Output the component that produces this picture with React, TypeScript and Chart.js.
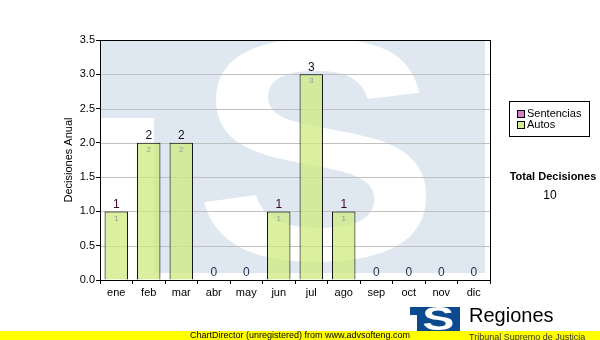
import React, { useEffect, useRef } from "react";
import { Chart, registerables } from "chart.js";

Chart.register(...registerables);

const categories = ["ene", "feb", "mar", "abr", "may", "jun", "jul", "ago", "sep", "oct", "nov", "dic"];
const sentencias = [0, 0, 0, 0, 0, 0, 0, 0, 0, 0, 0, 0];
const autos = [1, 2, 2, 0, 0, 1, 3, 1, 0, 0, 0, 0];
const yTicks = [0, 0.5, 1, 1.5, 2, 2.5, 3, 3.5];
const legendLabels = ["Sentencias", "Autos"];
const totalLabel = "Total Decisiones";
const totalValue = "10";
const yTitle = "Decisiones Anual";
const footerText = "ChartDirector (unregistered) from www.advsofteng.com";
const logoTitle = "Regiones";
const logoSubtitle = "Tribunal Supremo de Justicia";

const FONT = "'Liberation Sans', Arial, sans-serif";

function drawLogo(ctx: CanvasRenderingContext2D, x: number, y: number, w: number, h: number, blue: string, white: string) {
  ctx.save();
  ctx.fillStyle = blue;
  ctx.fillRect(x, y, w, h);
  ctx.fillStyle = white;
  ctx.fillRect(x, y + h * 0.335, w * 0.14, h * 0.665);
  ctx.font = `bold 100px 'Liberation Sans', Arial, sans-serif`;
  ctx.textAlign = "left";
  ctx.textBaseline = "alphabetic";
  const m = ctx.measureText("S");
  const left = -m.actualBoundingBoxLeft;
  const right = m.actualBoundingBoxRight;
  const top = -m.actualBoundingBoxAscent;
  const bottom = m.actualBoundingBoxDescent;
  const tx = x + w * 0.262;
  const ty = y - h * 0.009;
  const tw = w * 0.587;
  const th = h * 0.962;
  const sx = tw / (right - left);
  const sy = th / (bottom - top);
  ctx.beginPath();
  ctx.rect(x, y, w, h);
  ctx.clip();
  ctx.translate(tx - left * sx, ty - top * sy);
  ctx.scale(sx, sy);
  ctx.fillText("S", 0, 0);
  ctx.restore();
}

const decorPlugin = {
  id: "decor",
  beforeDatasetsDraw(chart: any) {
    const { ctx, chartArea: a } = chart;
    ctx.save();
    ctx.beginPath();
    ctx.rect(a.left, a.top, a.right - a.left, a.bottom - a.top);
    ctx.clip();
    drawLogo(ctx, a.left, a.top, 385, 233, "#dfe8f1", "#ffffff");
    ctx.restore();
    const y = chart.scales.y;
    ctx.save();
    ctx.strokeStyle = "#c0c0c0";
    ctx.lineWidth = 1;
    yTicks.forEach((t) => {
      if (t === 0) return;
      const py = Math.round(y.getPixelForValue(t)) + 0.5;
      ctx.beginPath();
      ctx.moveTo(a.left, py);
      ctx.lineTo(a.right, py);
      ctx.stroke();
    });
    ctx.restore();
  },
  afterDatasetsDraw(chart: any) {
    const { ctx, chartArea: a } = chart;
    ctx.save();
    ctx.strokeStyle = "#000";
    ctx.lineWidth = 1;
    ctx.strokeRect(Math.round(a.left) + 0.5, Math.round(a.top) + 0.5, Math.round(a.right - a.left), Math.round(a.bottom - a.top));
    const meta = chart.getDatasetMeta(1);
    meta.data.forEach((bar: any, i: number) => {
      const total = sentencias[i] + autos[i];
      ctx.textAlign = "center";
      ctx.textBaseline = "bottom";
      ctx.font = `12px ${FONT}`;
      ctx.fillStyle = total === 0 ? "#2a3050" : total === 1 ? "#3a0a28" : "#10101c";
      ctx.fillText(String(total), bar.x, bar.y - 1);
      if (autos[i] > 0) {
        ctx.font = `8px ${FONT}`;
        ctx.fillStyle = "#9a9a9a";
        ctx.textBaseline = "top";
        ctx.fillText(String(autos[i]), bar.x, bar.y + 3);
      }
    });
    ctx.restore();
  },
  afterDraw(chart: any) {
    const { ctx } = chart;
    ctx.save();
    ctx.fillStyle = "#fff";
    ctx.fillRect(509, 101, 80, 35);
    ctx.strokeStyle = "#000";
    ctx.lineWidth = 1;
    ctx.strokeRect(509.5, 101.5, 80, 35);
    const colors = ["#d77fc6", "#d4ec94"];
    legendLabels.forEach((l, i) => {
      const yy = 110 + i * 11;
      ctx.fillStyle = colors[i];
      ctx.fillRect(517, yy, 7, 7);
      ctx.strokeStyle = "#000";
      ctx.strokeRect(517.5, yy + 0.5, 7, 7);
      ctx.fillStyle = "#000";
      ctx.font = `11px ${FONT}`;
      ctx.textAlign = "left";
      ctx.textBaseline = "middle";
      ctx.fillText(l, 527, yy + 4);
    });
    ctx.textAlign = "center";
    ctx.textBaseline = "middle";
    ctx.font = `bold 11px ${FONT}`;
    ctx.fillText(totalLabel, 553, 177);
    ctx.font = `12px ${FONT}`;
    ctx.fillText(totalValue, 550, 196);
    // footer band
    ctx.fillStyle = "#ffff00";
    ctx.fillRect(0, 331, 600, 9);
    ctx.fillStyle = "#000";
    ctx.font = `9px ${FONT}`;
    ctx.textBaseline = "middle";
    ctx.fillText(footerText, 300, 336);
    // logo
    drawLogo(ctx, 410, 307, 50, 24, "#0b4a8e", "#ffffff");
    ctx.fillStyle = "#000";
    ctx.textAlign = "left";
    ctx.textBaseline = "alphabetic";
    ctx.font = `20px ${FONT}`;
    ctx.fillText(logoTitle, 469, 322);
    ctx.save();
    ctx.beginPath();
    ctx.rect(466, 331, 134, 9);
    ctx.clip();
    ctx.font = `9px ${FONT}`;
    ctx.fillStyle = "#333";
    ctx.textBaseline = "middle";
    ctx.fillText(logoSubtitle, 469, 338);
    ctx.restore();
    ctx.restore();
  },
};

export default function App() {
  const ref = useRef<HTMLCanvasElement>(null);
  useEffect(() => {
    if (!ref.current) return;
    const chart = new Chart(ref.current, {
      type: "bar",
      data: {
        labels: categories,
        datasets: [
          {
            label: legendLabels[0],
            data: sentencias,
            backgroundColor: "#d77fc6",
            borderColor: "#000",
            borderWidth: 1,
            barPercentage: 0.72,
            categoryPercentage: 1,
          },
          {
            label: legendLabels[1],
            data: autos,
            backgroundColor: "rgba(205,235,125,0.75)",
            borderColor: "#000",
            borderWidth: 1,
            barPercentage: 0.72,
            categoryPercentage: 1,
          },
        ],
      },
      options: {
        animation: false,
        responsive: false,
        devicePixelRatio: 1,
        layout: { padding: { left: 62, right: 110, top: 40, bottom: 38 } },
        plugins: { legend: { display: false }, tooltip: { enabled: false } },
        scales: {
          x: {
            stacked: true,
            grid: { drawOnChartArea: false, tickLength: 4, color: "#000", tickColor: "#000" },
            border: { display: false },
            ticks: { color: "#000", font: { family: FONT, size: 11 }, padding: 2 },
            afterFit(s: any) { s.height = 22; },
          },
          y: {
            stacked: true,
            min: 0,
            max: 3.5,
            grid: { drawOnChartArea: false, tickLength: 4, tickColor: "#000", color: "#000" },
            border: { display: false },
            ticks: {
              stepSize: 0.5,
              color: "#000",
              font: { family: FONT, size: 11 },
              padding: 1,
              callback: (v: any) => Number(v).toFixed(1),
            },
            title: { display: true, text: yTitle, color: "#000", font: { family: FONT, size: 11 }, padding: 0 },
            afterFit(s: any) { s.width = 38; },
          },
        },
      },
      plugins: [decorPlugin],
    });
    return () => chart.destroy();
  }, []);
  return (
    <div style={{ position: "absolute", left: 0, top: 0, width: 600, height: 340, background: "#fff" }}>
      <canvas ref={ref} width={600} height={340} style={{ width: 600, height: 340, display: "block" }} />
    </div>
  );
}
